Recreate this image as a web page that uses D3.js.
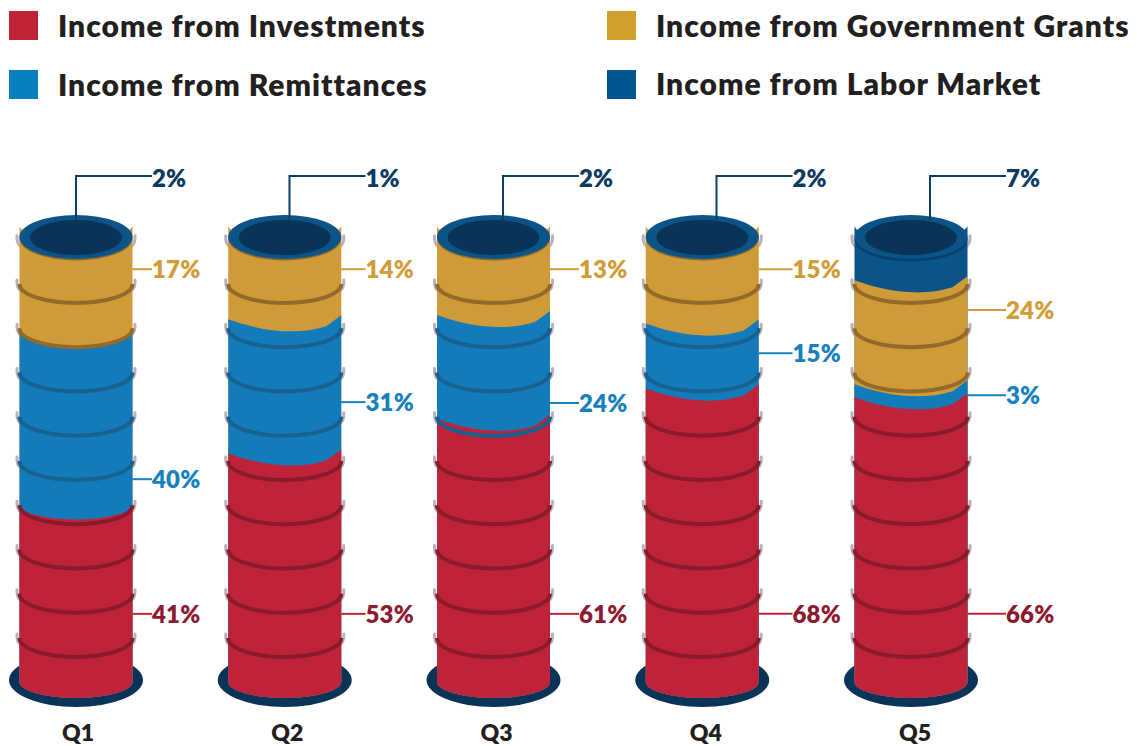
<!DOCTYPE html>
<html>
<head>
<meta charset="utf-8">
<script src="https://cdn.jsdelivr.net/npm/d3@7"></script>
<style>
  html, body { margin: 0; background: #fff; }
  svg { display: block; font-family: "Lato", sans-serif; font-weight: 800; }
  .legend-label { font-size: 30px; letter-spacing: 1px; fill: #231f20; }
  .pct { font-size: 24px; letter-spacing: 0.2px; }
  .quintile { font-size: 23px; fill: #231f20; text-anchor: middle; }
</style>
</head>
<body>
<svg id="chart" width="1137" height="746"></svg>
<script>
const quintiles = ["Q1", "Q2", "Q3", "Q4", "Q5"];
const investments = [41, 53, 61, 68, 66];
const remittances = [40, 31, 24, 15, 3];
const grants = [17, 14, 13, 15, 24];
const labor = [2, 1, 2, 2, 7];

const seriesKeys = ["investments", "remittances", "grants", "labor"];
const seriesNames = ["Income from Investments", "Income from Remittances", "Income from Government Grants", "Income from Labor Market"];

// where each leader line hits the barrel, in percent up the barrel (not the middle of the band)
const leadInvestments = [19.2, 19.2, 19.2, 19.2, 19.2];
const leadRemittances = [50.3, 68.1, 67.9, 79.4, 69.7];
const leadGrants = [98.8, 98.8, 98.8, 98.8, 89.4];

const rows = quintiles.map((q, i) => ({
  q,
  investments: investments[i],
  remittances: remittances[i],
  grants: grants[i],
  labor: labor[i],
}));

const fill = { investments: "#bf233a", remittances: "#137bb9", grants: "#cf9b38", labor: "#0b5488" };
const hoopColor = { investments: "#8a1b2d", remittances: "#17618f", grants: "#946a2b", labor: "#0a3d68" };
const textColor = { investments: "#8e1a2f", remittances: "#1681bd", grants: "#d09c38", labor: "#0c3a5f" };
const legendFill = { investments: "#c02337", remittances: "#0880c0", grants: "#d2a02c", labor: "#00568f" };
const navy = "#0a3457";

const halfWidth = 56.5;
const x = d3.scalePoint().domain(quintiles).range([76, 911]);
const labelX = d3.scalePoint().domain(quintiles).range([152, 1006]);
const captionX = d3.scalePoint().domain(quintiles).range([78, 915]);
const y = d3.scaleLinear().domain([0, 100]).range([697, 264]);
const hoopY = d3.scaleLinear().domain([0, 8]).range([657, 303]);

const stacked = d3.stack().keys(seriesKeys)(rows);

const svg = d3.select("#chart");

// legend
const legendX = d3.scaleOrdinal().domain(seriesKeys).range([9, 9, 607, 607]);
const legendY = d3.scaleOrdinal().domain(seriesKeys).range([11, 70, 11, 70]);
const legendTextY = d3.scaleOrdinal().domain(seriesKeys).range([37, 96, 37, 95]);
const legend = svg.append("g").selectAll("g").data(seriesKeys).join("g");
legend.append("rect")
  .attr("x", (k) => legendX(k))
  .attr("y", (k) => legendY(k))
  .attr("width", 29)
  .attr("height", 29)
  .attr("fill", (k) => legendFill[k]);
legend.append("text")
  .attr("class", "legend-label")
  .attr("x", (k) => legendX(k) + 49)
  .attr("y", (k) => legendTextY(k))
  .text((k, i) => seriesNames[i]);

// curved top edge of a band, left to right. Q1 is a clean arc, the others have a kink on the right
const edge = (yc, smooth) =>
  smooth
    ? `M${-halfWidth},${yc - 14}A${halfWidth},15 0 0 0 ${halfWidth},${yc - 16}`
    : `M${-halfWidth},${yc - 14}C-26,${yc - 3} 10,${yc + 3} 41.5,${yc - 7}L${halfWidth},${yc - 18}`;

const barrelBottom = `L${halfWidth},682A${halfWidth},16 0 0 1 ${-halfWidth},682Z`;

const columns = svg.append("g").selectAll("g").data(rows).join("g")
  .attr("transform", (d) => `translate(${x(d.q)},0)`);

columns.each(function (d, i) {
  const g = d3.select(this);
  const hoops = d3.range(9).map((n) => hoopY(n));
  const dx = labelX(d.q) - x(d.q);

  // the little hoop ends that stick out behind the barrel
  const hookLevels = hoops.concat([hoopY(8) - 44.25]);
  g.selectAll(".hook").data(hookLevels.flatMap((h) => [[h, -1], [h, 1]])).join("path")
    .attr("class", "hook")
    .attr("fill", "none")
    .attr("stroke", "#bbb0bd")
    .attr("stroke-width", 3)
    .attr("stroke-linecap", "round")
    .attr("d", ([h, side]) => `M${side * 59},${h - 23}Q${side * 59.5},${h - 15} ${side * 55},${h - 12}`);

  g.append("ellipse")
    .attr("cy", 680)
    .attr("rx", 67)
    .attr("ry", 27)
    .attr("fill", navy);

  // bands painted top down, each one covers what is under its own edge.
  // a thin labor band is hidden by the lid, so the next band runs up to it
  const visible = stacked.slice().reverse().filter((s) => s.key !== "labor" || d.labor > 2);
  visible.forEach((layer, n) => {
    const line = n === 0 ? edge(240, true) : edge(y(layer[i][1]), i === 0);
    g.append("path")
      .attr("fill", fill[layer.key])
      .attr("d", line + barrelBottom);
  });

  // hoops take the colour of the band they sit in
  const bandAt = (h) => {
    const level = y.invert(h - 3);
    const layer = stacked.find((s) => level < s[i][1]);
    return layer ? layer.key : "labor";
  };
  g.selectAll(".hoop").data(hoops).join("path")
    .attr("class", "hoop")
    .attr("fill", "none")
    .attr("stroke", (h) => hoopColor[bandAt(h)])
    .attr("stroke-width", 4)
    .attr("d", (h) => `M${-halfWidth},${h - 19}A${halfWidth},19 0 0 0 ${halfWidth},${h - 19}`);

  // lid
  g.append("ellipse")
    .attr("cy", d.labor > 2 ? 239.5 : 238.5)
    .attr("rx", halfWidth)
    .attr("ry", 22)
    .attr("fill", d.labor > 2 ? "#0a3d68" : hoopColor.grants);
  g.append("ellipse")
    .attr("cy", 237)
    .attr("rx", halfWidth)
    .attr("ry", 22)
    .attr("fill", fill.labor);
  g.append("ellipse")
    .attr("cy", 237.5)
    .attr("rx", 46)
    .attr("ry", 17.5)
    .attr("fill", navy);

  // leaders and percent labels
  const leaders = [
    { key: "investments", at: y(leadInvestments[i]) },
    { key: "remittances", at: y(leadRemittances[i]) },
    { key: "grants", at: y(leadGrants[i]) },
  ];
  g.selectAll(".leader").data(leaders).join("line")
    .attr("class", "leader")
    .attr("x1", halfWidth)
    .attr("x2", dx)
    .attr("y1", (l) => l.at)
    .attr("y2", (l) => l.at)
    .attr("stroke", (l) => (l.key === "investments" ? fill.investments : textColor[l.key]))
    .attr("stroke-width", 2);
  g.selectAll(".pct").data(leaders).join("text")
    .attr("class", "pct")
    .attr("x", dx)
    .attr("y", (l) => l.at + 9)
    .attr("fill", (l) => textColor[l.key])
    .text((l) => d[l.key] + "%");

  g.append("path")
    .attr("fill", "none")
    .attr("stroke", "#0c3f68")
    .attr("stroke-width", 2)
    .attr("d", `M${dx - 76},220V176H${dx}`);
  g.append("text")
    .attr("class", "pct")
    .attr("x", dx)
    .attr("y", 187)
    .attr("fill", textColor.labor)
    .text(d.labor + "%");

  g.append("text")
    .attr("class", "quintile")
    .attr("x", captionX(d.q) - x(d.q))
    .attr("y", 741)
    .text(d.q);
});
</script>
</body>
</html>
